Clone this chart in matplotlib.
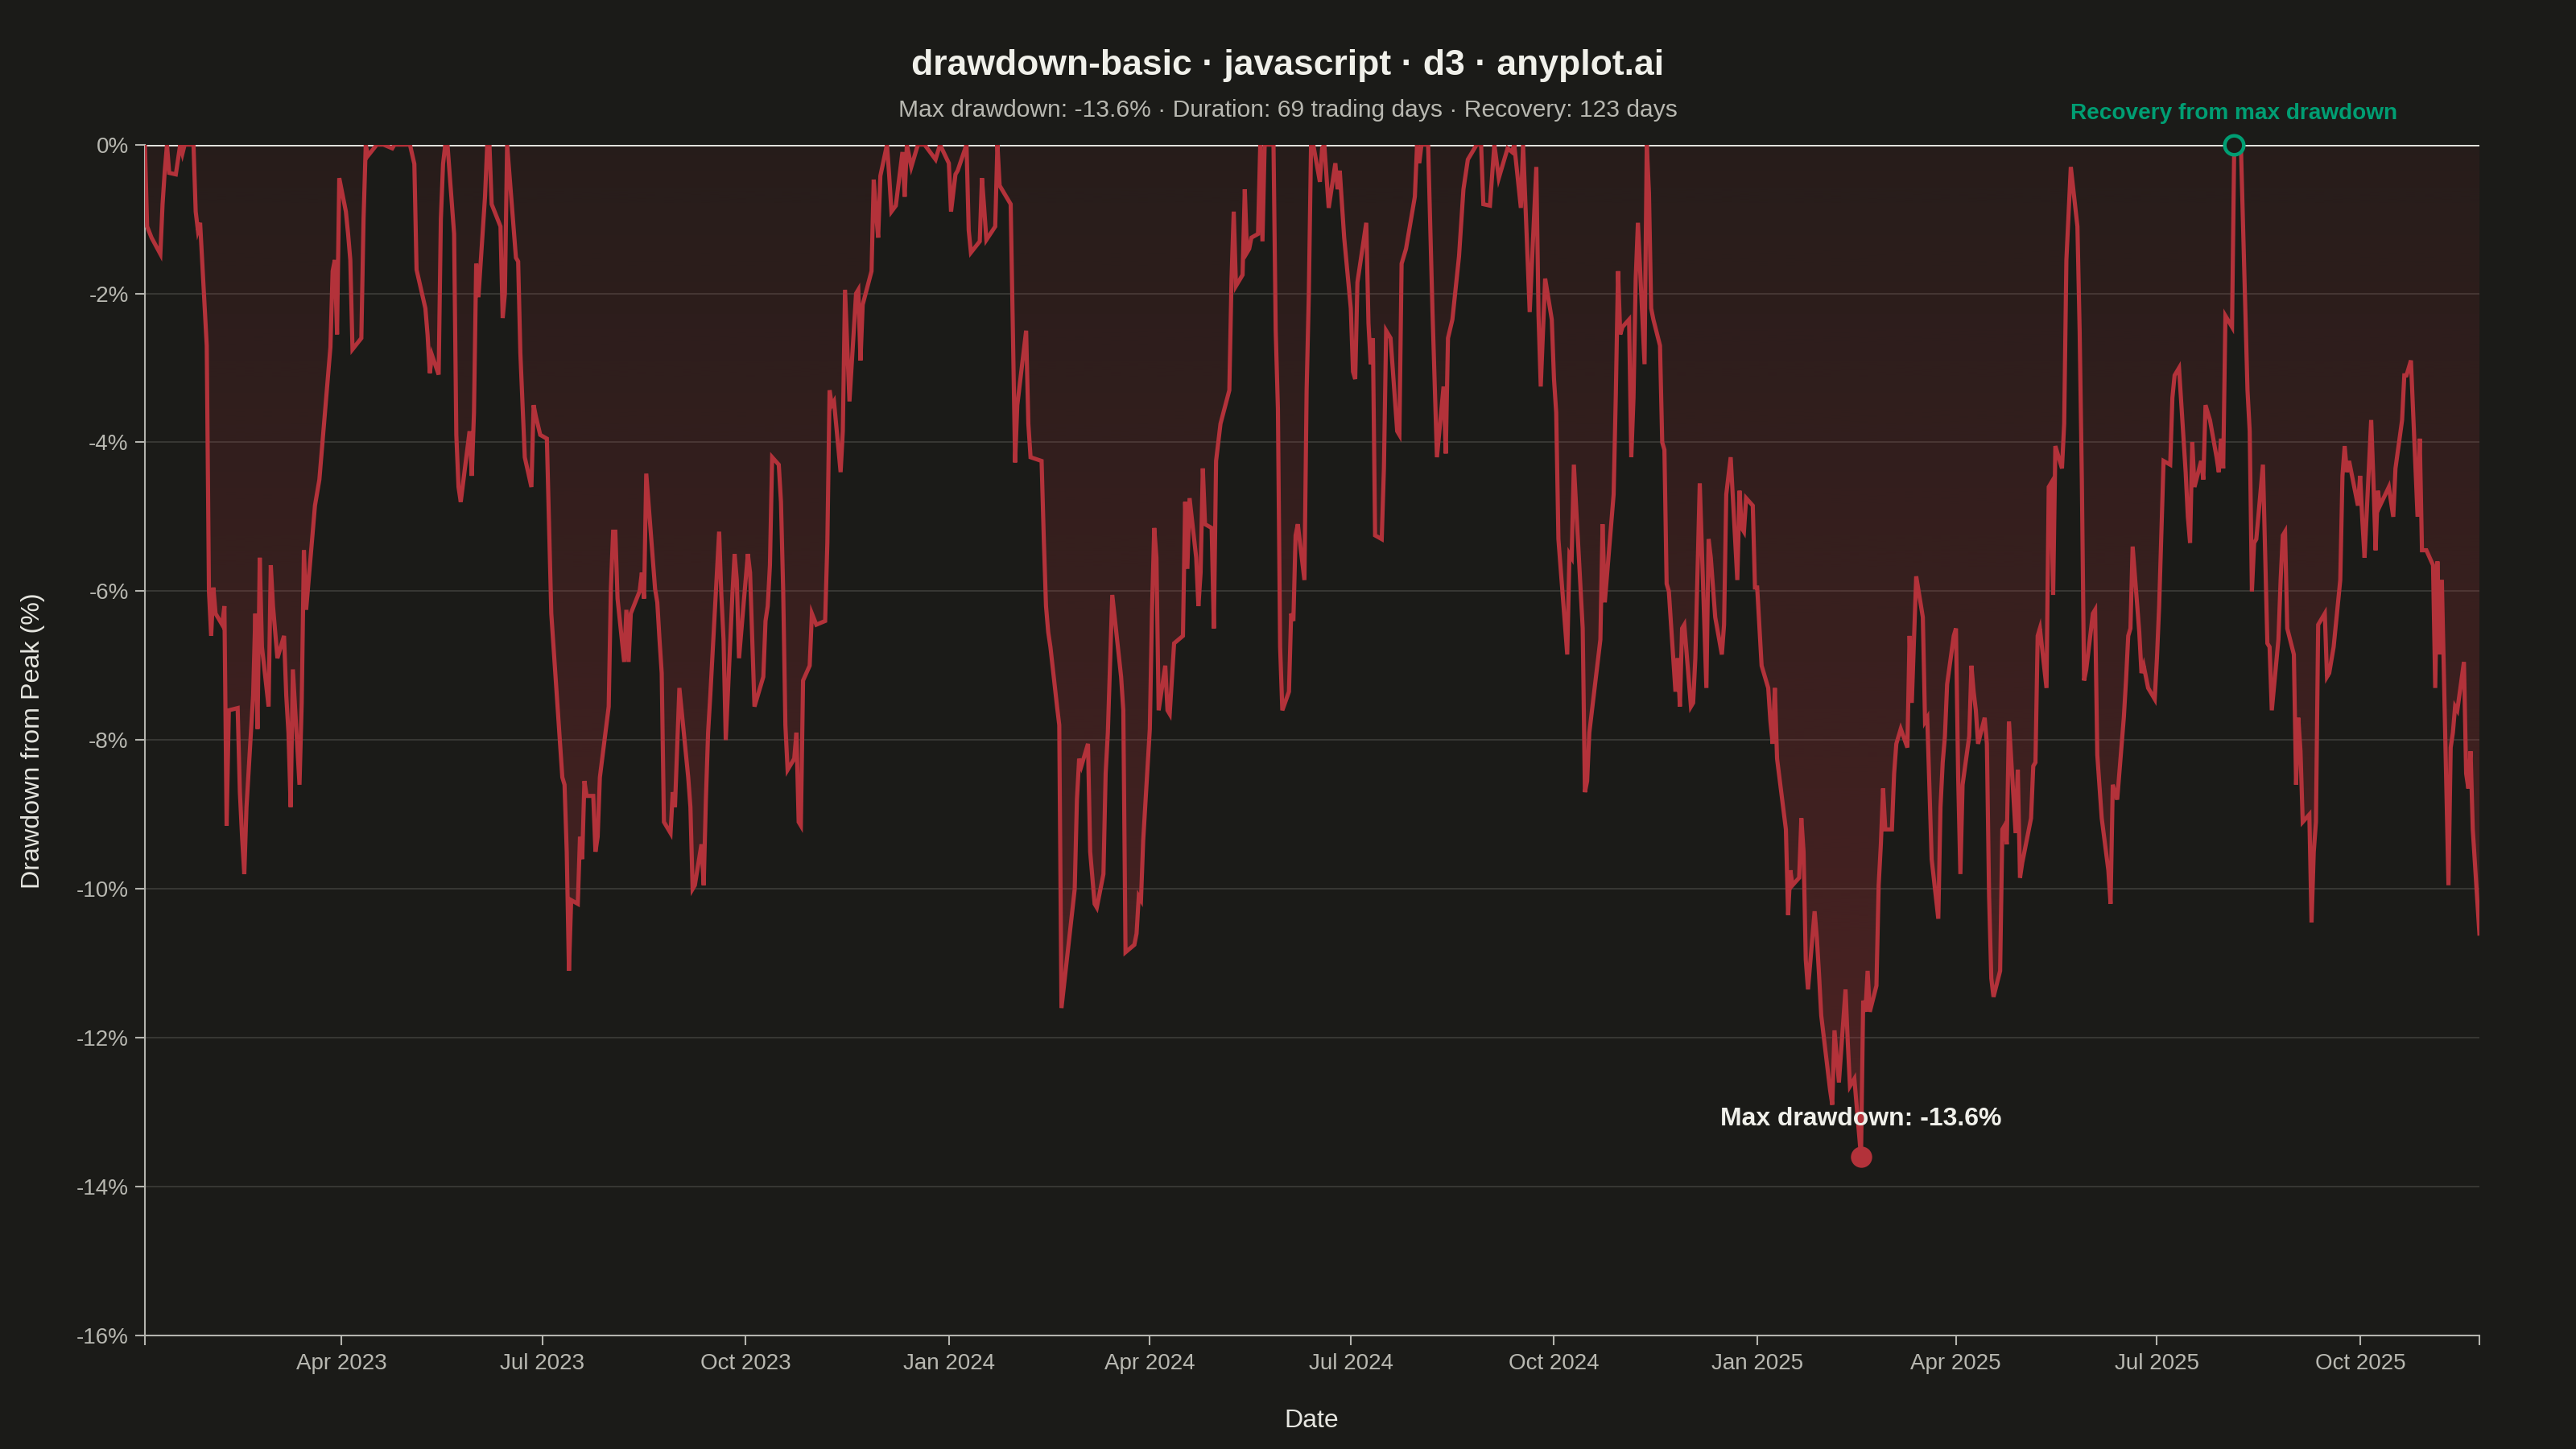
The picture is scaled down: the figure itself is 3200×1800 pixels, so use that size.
import numpy as np
import pandas as pd
import matplotlib
matplotlib.use('Agg')
import matplotlib.pyplot as plt
import matplotlib.dates as mdates
from matplotlib import colors

plt.rcParams['font.family'] = ['Liberation Sans', 'DejaVu Sans']

# Data: trading-day index (business days from 2023-01-02) and drawdown in %
start_date = '2023-01-02'
n_days = 756

trade_day = [
    0, 1, 3, 5, 6, 7, 8, 9, 10, 11,
    12, 13, 14, 16, 17, 18, 19, 20, 21, 22,
    23, 24, 25, 26, 27, 28, 30, 31, 32, 33,
    34, 35, 36, 37, 38, 39, 40, 41, 42, 44,
    45, 46, 47, 48, 49, 50, 51, 52, 53, 55,
    57, 60, 61, 62, 63, 64, 65, 66, 67, 68,
    70, 71, 72, 73, 75, 78, 80, 81, 86, 88,
    89, 91, 92, 93, 94, 95, 96, 97, 98, 99,
    100, 101, 102, 103, 105, 106, 107, 108, 109, 110,
    111, 112, 113, 115, 116, 117, 118, 120, 121, 122,
    124, 125, 126, 127, 129, 130, 132, 135, 136, 137,
    138, 139, 140, 141, 142, 143, 144, 145, 146, 147,
    148, 150, 151, 152, 153, 154, 155, 156, 157, 158,
    160, 161, 162, 163, 165, 166, 167, 168, 169, 170,
    171, 172, 174, 176, 177, 178, 179, 180, 181, 182,
    183, 184, 186, 187, 188, 189, 190, 191, 192, 193,
    195, 196, 198, 200, 201, 202, 203, 204, 205, 206,
    207, 208, 209, 210, 211, 212, 213, 214, 215, 216,
    218, 220, 221, 222, 223, 224, 225, 226, 227, 229,
    230, 231, 232, 233, 235, 236, 237, 238, 239, 240,
    241, 242, 244, 245, 246, 247,
    249, 250, 253, 256, 258, 260, 261, 263, 264, 266,
    267, 268, 270, 271, 272, 273, 275, 276, 277, 280,
    281, 282, 283, 285, 286, 287, 290, 291, 292, 293,
    294, 295, 296, 297, 301, 302, 303, 304, 305, 306,
    307, 308, 309, 310, 311, 312, 314, 316, 317, 318,
    320, 321, 322, 323, 324, 325, 326, 327, 328, 329,
    330, 331, 332, 334, 336, 337, 338, 339, 340, 341,
    342, 343, 344, 345, 346, 347, 349, 351, 352, 353,
    354, 355, 356, 357, 358, 359, 360, 361, 362, 363,
    365, 366, 367, 368, 369, 370, 371, 372, 373, 374,
    375, 376, 377, 378,
    379, 380, 381, 382, 384, 385, 386, 387, 389, 390,
    391, 392, 393, 395, 396, 397, 398, 399, 400, 401,
    402, 404, 405, 406, 407, 409, 411, 412, 413, 414,
    415, 417, 419, 420, 421, 422, 424, 425, 427, 429,
    431, 433, 434, 435, 437, 439, 441, 443, 444, 445,
    446, 449, 450, 451, 452, 454, 455, 456, 457, 458,
    460, 461, 462, 463, 465, 466, 467, 468, 471, 472,
    473, 475, 476, 477, 478, 479, 480, 481, 482, 483,
    484, 485, 486, 487, 488, 489, 490, 491, 492, 493,
    494, 495, 496, 497, 498, 499, 500, 501, 502,
    504, 505, 506, 507, 509, 510, 511, 512, 514, 515,
    516, 517, 518, 519, 520, 521, 522, 524, 525, 526,
    527, 528, 529, 531, 532, 533, 534, 535, 536, 537,
    538, 539, 540, 541, 542, 543, 545, 546, 547, 549,
    550, 551, 552, 554, 555, 556, 557, 558, 559, 560,
    561, 562, 563, 564, 565, 566, 567, 568, 569, 570,
    571, 572, 574, 575, 576, 577, 579, 580, 581, 582,
    583, 584, 585, 586, 587, 588, 589, 590, 591, 592,
    593, 594, 595, 596, 597, 598, 599, 600, 601, 602,
    603, 604, 605, 606, 607, 608, 609, 610, 611, 612,
    613, 614, 615, 616, 617, 618, 619, 620, 621, 622,
    624, 625, 626, 627, 628,
    629, 630, 631, 632, 634, 635, 636, 637, 639, 640,
    641, 642, 643, 644, 645, 646, 647, 649, 650, 651,
    652, 654, 655, 656, 657, 659, 660, 661, 662, 663,
    664, 665, 666, 667, 668, 669, 670, 671, 672, 673,
    674, 675, 676, 678, 679, 680, 681, 682, 683, 684,
    685, 686, 687, 688, 689, 690, 691, 692, 693, 694,
    695, 696, 697, 698, 699, 700, 701, 702, 703, 704,
    705, 706, 707, 709, 710, 711, 712, 713, 714, 715,
    716, 717, 718, 719, 720, 721, 722, 723, 724, 726,
    728, 729, 730, 731, 732, 734, 735, 736, 737, 739,
    740, 741, 742, 743, 744, 745, 746, 747, 748, 749,
    750, 751, 752, 753, 754, 755,
]

drawdown = [
    0, -1.1, -1.25, -1.47, -0.8, -0.35, 0, -0.38, -0.4, -0.2,
    0, -0.12, 0, 0, -0.9, -1.15, -1.05, -2.7, -6.0, -6.6,
    -5.95, -6.3, -6.45, -6.2, -9.15, -7.6, -7.57, -8.7, -9.3, -9.8,
    -8.9, -7.4, -6.3, -7.85, -5.55, -6.75, -7.55, -5.65, -6.2, -6.9,
    -6.6, -7.4, -7.9, -8.9, -7.05, -8.6, -7.5, -5.45, -6.25, -4.85,
    -4.5, -2.72, -1.7, -1.55, -2.55, -0.45, -0.9, -1.2, -1.55, -2.75,
    -2.6, -1.0, 0, -0.15, 0, 0, -0.05, 0, 0, -0.26,
    -1.68, -2.2, -2.56, -3.07, -2.83, -3.09, -1.0, -0.26, 0, 0,
    -1.2, -3.9, -4.6, -4.8, -3.85, -4.45, -3.6, -1.6, -2.05, -0.7,
    0, 0, -0.8, -1.1, -2.33, -2.0, 0, -1.52, -1.57, -2.8,
    -4.2, -4.6, -3.5, -3.65, -3.9, -3.95, -6.3, -8.5, -8.6, -9.5,
    -11.1, -10.15, -10.2, -9.3, -9.6, -8.55, -8.75, -8.75, -9.5, -9.3,
    -8.5, -7.55, -5.95, -5.2, -5.2, -6.1, -6.95, -6.25, -6.95, -6.3,
    -6.0, -5.75, -6.1, -4.42, -5.97, -6.15, -6.65, -7.1, -9.1, -9.25,
    -8.7, -8.9, -7.3, -8.5, -8.9, -10.0, -9.95, -9.4, -9.95, -8.8,
    -7.9, -7.4, -5.2, -6.05, -6.65, -8.0, -6.05, -5.5, -5.85, -6.9,
    -5.5, -5.75, -7.55, -7.15, -6.4, -6.2, -5.65, -4.2, -4.3, -4.8,
    -6.0, -7.8, -8.4, -8.25, -7.9, -9.1, -9.15, -7.2, -7.0, -6.3,
    -6.45, -6.4, -5.35, -3.3, -3.5, -3.45, -4.4, -3.85, -1.95, -3.45,
    -2.0, -1.95, -2.9, -2.15, -1.7, -0.47, -0.9, -1.25, -0.42, 0,
    -0.42, -0.9, -0.82, -0.1, -0.7, 0,
    -0.3, 0, 0, -0.2, 0, -0.25, -0.9, -0.4, -0.35, 0,
    -1.15, -1.45, -1.3, -0.45, -0.85, -1.28, -1.1, 0, -0.55, -0.8,
    -2.5, -4.27, -3.5, -2.5, -3.75, -4.2, -4.25, -5.3, -6.2, -6.55,
    -6.75, -7.55, -7.8, -11.6, -10.0, -8.8, -8.25, -8.35, -8.05, -9.5,
    -9.85, -10.2, -10.25, -9.8, -8.45, -7.9, -6.05, -7.15, -7.6, -10.85,
    -10.75, -10.6, -10.1, -10.15, -9.35, -7.85, -6.25, -5.15, -5.55, -7.6,
    -7.0, -7.6, -7.65, -6.7, -6.6, -4.8, -5.7, -4.75, -5.55, -6.2,
    -5.75, -4.35, -5.1, -5.15, -6.5, -4.25, -3.75, -3.3, -1.8, -0.9,
    -1.9, -1.75, -0.6, -1.45, -1.4, -1.25, -1.2, 0, -1.3, 0,
    0, -2.5, -3.55, -6.75, -7.6, -7.35, -6.3, -6.4, -5.25, -5.1,
    -5.85, -3.3, -2.0, 0,
    0, -0.5, -0.05, 0, -0.85, -0.25, -0.6, -0.35, -1.25, -2.2,
    -3.05, -3.15, -1.85, -1.05, -2.4, -2.95, -2.6, -5.25, -5.3, -4.35,
    -2.5, -2.6, -3.85, -3.9, -1.6, -1.4, -0.7, 0, -0.25, 0,
    0, -2.25, -4.2, -3.25, -4.15, -2.6, -2.35, -1.5, -0.6, -0.2,
    0, 0, -0.8, -0.82, 0, -0.45, -0.05, -0.1, 0, -0.85,
    0, -2.25, -0.3, -2.3, -3.25, -1.8, -2.35, -3.15, -3.6, -5.3,
    -6.85, -5.5, -5.55, -4.3, -6.5, -8.7, -8.55, -7.9, -6.65, -5.1,
    -6.15, -4.7, -3.35, -1.7, -2.55, -2.45, -2.35, -4.2, -3.4, -1.8,
    -1.05, -2.95, 0, -0.65, -2.2, -2.35, -2.7, -4.0, -4.1, -5.9,
    -6.0, -7.35, -6.9, -7.55, -6.5, -6.45, -7.55, -7.5, -6.9,
    -4.55, -7.3, -5.3, -5.55, -6.35, -6.85, -6.45, -4.7, -4.2, -5.85,
    -4.65, -5.15, -5.2, -4.75, -4.85, -5.95, -5.95, -7.0, -7.3, -7.75,
    -8.05, -7.3, -8.25, -9.2, -10.35, -9.75, -9.95, -9.85, -9.05, -9.5,
    -10.95, -11.35, -10.3, -10.65, -11.15, -11.7, -12.7, -12.9, -11.9, -12.6,
    -11.35, -12.05, -12.65, -12.55, -13.6, -11.5, -11.65, -11.1, -11.65, -11.3,
    -9.95, -9.4, -8.65, -9.2, -9.2, -8.45, -8.05, -7.95, -7.85, -8.1,
    -6.6, -7.5, -5.8, -6.35, -7.75, -7.7, -9.6, -10.4, -8.9, -8.3,
    -7.95, -7.25, -6.6, -6.5, -8.5, -9.8, -8.6, -7.95, -7.0, -7.35,
    -7.6, -8.05, -7.7, -8.05, -10.1, -11.2, -11.45, -11.1, -9.2, -9.15,
    -9.4, -7.75, -9.25, -8.4, -9.85, -9.65, -9.5, -9.05, -8.35, -8.3,
    -6.6, -6.5, -7.3, -4.6, -4.55, -6.05, -4.05, -4.35, -3.75, -1.55,
    -0.3, -1.1, -2.5, -4.5, -7.2,
    -7.05, -6.3, -6.25, -8.2, -9.05, -9.75, -10.2, -8.6, -8.8, -7.7,
    -7.2, -6.6, -6.5, -5.4, -6.55, -7.1, -7.0, -7.3, -7.45, -6.9,
    -6.2, -4.25, -4.3, -3.4, -3.1, -3.0, -4.4, -5.0, -5.35, -4.0,
    -4.6, -4.25, -4.5, -3.5, -3.6, -3.7, -4.2, -4.4, -3.95, -4.35,
    -2.3, -2.45, 0, 0, 0, -3.3, -3.85, -6.0, -5.35, -5.3,
    -4.3, -5.5, -6.7, -6.75, -7.6, -6.65, -5.85, -5.25, -5.2, -6.5,
    -6.85, -8.6, -7.7, -8.15, -9.1, -9.0, -10.45, -9.5, -9.1, -6.45,
    -6.3, -7.15, -7.1, -6.75, -5.85, -4.45, -4.05, -4.4, -4.25, -4.7,
    -4.85, -4.45, -5.05, -5.55, -3.7, -4.5, -5.45, -4.65, -4.85, -4.6,
    -5.0, -4.35, -3.7, -3.1, -3.1, -2.9, -5.0, -3.95, -5.45, -5.45,
    -5.65, -7.3, -5.6, -6.85, -5.85, -9.95, -8.1, -7.9, -7.55, -7.6,
    -6.95, -8.45, -8.65, -8.15, -9.2, -10.6,
]

y_ticks = [0, -2, -4, -6, -8, -10, -12, -14, -16]

title = 'drawdown-basic · javascript · d3 · anyplot.ai'
subtitle = 'Max drawdown: -13.6% · Duration: 69 trading days · Recovery: 123 days'

# colours
BG = '#1b1b18'
RED = '#b3323a'
GREEN = '#009e73'
TEXT = '#f0f0ea'
MUTED = '#b8b8b1'
GRID = '#3d3d39'
AXIS = '#b4b4ae'

# build series
all_dates = pd.bdate_range(start_date, periods=n_days)
dates = all_dates[trade_day]
dd = np.array(drawdown)
x = mdates.date2num(dates.to_pydatetime())

i_min = int(np.argmin(dd))
i_rec = i_min + int(np.argmax(dd[i_min:] >= 0))

fig = plt.figure(figsize=(16, 9), dpi=200, facecolor=BG)
ax = fig.add_axes([0.05625, 0.0783, 0.90625, 0.8219])
ax.set_facecolor(BG)

# gridlines
for v in y_ticks[1:-1]:
    ax.axhline(v, color=GRID, lw=0.6, zorder=0.5)

# gradient fill between 0 and the drawdown line
poly = ax.fill_between(x, dd, 0, facecolor='none', edgecolor='none')
rgb = colors.to_rgb(RED)
grad = np.zeros((256, 1, 4))
grad[..., 0] = rgb[0]
grad[..., 1] = rgb[1]
grad[..., 2] = rgb[2]
grad[:, 0, 3] = np.linspace(0.08, 0.33, 256)
im = ax.imshow(grad, extent=[x[0], x[-1], dd.min(), 0], aspect='auto',
               origin='upper', interpolation='bilinear', zorder=1)
im.set_clip_path(poly.get_paths()[0], transform=ax.transData)

ax.plot(x, dd, color=RED, lw=1.85, zorder=3, solid_joinstyle='miter')
ax.axhline(0, color='#e8e8e2', lw=1.0, zorder=2)

# max drawdown marker
ax.plot(x[i_min], dd[i_min], 'o', ms=8.5, color=RED, zorder=4)
ax.annotate(f'Max drawdown: {dd[i_min]:.1f}%', xy=(x[i_min], dd[i_min]),
            xytext=(0, 17), textcoords='offset points', ha='center', va='center',
            fontsize=11.5, fontweight='bold', color=TEXT, zorder=5)

# recovery marker
ax.plot(x[i_rec], 0, 'o', ms=8.5, mfc=BG, mec=GREEN, mew=1.6, zorder=4, clip_on=False)
ax.annotate('Recovery from max drawdown', xy=(x[i_rec], 0), xytext=(0, 14),
            textcoords='offset points', ha='center', va='center',
            fontsize=10.1, fontweight='bold', color=GREEN, annotation_clip=False)

# axes
ax.set_xlim(x[0], mdates.date2num(all_dates[-1]))
ax.set_ylim(-16, 0)
ax.set_yticks(y_ticks)
ax.set_yticklabels([f'{v}%' for v in y_ticks])
ax.xaxis.set_major_locator(mdates.MonthLocator(bymonth=[1, 4, 7, 10]))
ax.xaxis.set_major_formatter(mdates.DateFormatter('%b %Y'))
ax.set_xticks([x[0], mdates.date2num(all_dates[-1])], minor=True)

for s in ['top', 'right']:
    ax.spines[s].set_visible(False)
for s in ['left', 'bottom']:
    ax.spines[s].set_color(AXIS)
    ax.spines[s].set_linewidth(0.75)

ax.tick_params(axis='both', which='both', colors=AXIS, length=4.3, width=0.75,
               labelcolor=MUTED, labelsize=10)
ax.tick_params(axis='y', pad=3)
ax.tick_params(axis='x', pad=3.5)

fig.text(0.0128, 0.489, 'Drawdown from Peak (%)', rotation=90, ha='center', va='center',
         fontsize=11.6, color='#e6e6e0')
fig.text(0.509, 0.0195, 'Date', ha='center', va='center', fontsize=11.5, color='#e6e6e0')
fig.text(0.5, 0.955, title, ha='center', va='center', fontsize=16, fontweight='bold', color=TEXT)
fig.text(0.5, 0.924, subtitle, ha='center', va='center', fontsize=10.8, color=MUTED)

fig.savefig('out.png', dpi=200, facecolor=BG)
